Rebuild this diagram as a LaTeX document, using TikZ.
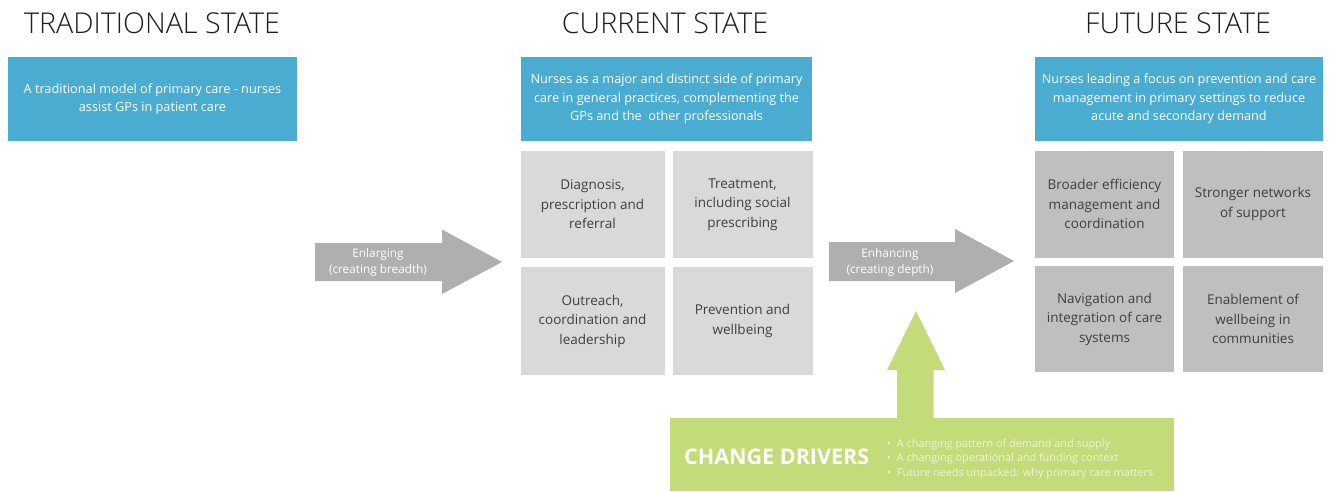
\documentclass[tikz,border=0pt]{standalone}
\usepackage{fontspec}
\setmainfont{Open Sans}
\newfontfamily\headfont{Open Sans Light}
\definecolor{bluebg}{HTML}{4BACD2}
\definecolor{lightbox}{HTML}{D9D9D9}
\definecolor{darkbox}{HTML}{BFBFBF}
\definecolor{arrowgray}{HTML}{AFAFAF}
\definecolor{drivergreen}{HTML}{C3DB78}
\definecolor{boxtext}{HTML}{3F3F3F}
\definecolor{titletext}{HTML}{1E1E1E}
\definecolor{paletext}{HTML}{EEF4D8}
\begin{document}
\begin{tikzpicture}[x=1pt,y=-1pt,
  heading/.style={anchor=base,text=titletext,font=\headfont\fontsize{28.7}{34}\selectfont,inner sep=0pt},
  bluebox/.style={fill=bluebg,text=white,minimum width=289,minimum height=84,inner sep=0pt,align=center,
                  font=\fontsize{12.7}{18.5}\selectfont},
  cell/.style={minimum width=143,minimum height=107,inner sep=0pt,align=center,text=boxtext,
               font=\fontsize{13.5}{19.5}\selectfont},
  nowcell/.style={cell,fill=lightbox},
  nextcell/.style={cell,fill=darkbox},
  arrowlabel/.style={text=white,align=center,inner sep=0pt,font=\fontsize{11.8}{16}\selectfont}]
\useasboundingbox (0,0) rectangle (1330,491);
\fill[white] (0,0) rectangle (1330,491);

% column headings
\node[heading] (hTrad) at (152,33) {TRADITIONAL STATE};
\node[heading] (hCur)  at (665,33) {CURRENT STATE};
\node[heading] (hFut)  at (1178,33) {FUTURE STATE};

% summary boxes
\node[bluebox] (bTrad) at (152.5,99) {A traditional model of primary care - nurses\\assist GPs in patient care};
\node[bluebox,minimum width=291] (bCur) at (666.5,99) {Nurses as a major and distinct side of primary\\care in general practices, complementing the\\GPs and the\ \ other professionals};
\node[bluebox,minimum width=288] (bFut) at (1179,99) {Nurses leading a focus on prevention and care\\management in primary settings to reduce\\acute and secondary demand};

% current state grid
\node[nowcell,minimum width=144] (c11) at (592.5,204.5) {Diagnosis,\\prescription and\\referral};
\node[nowcell,minimum width=140] (c12) at (742.5,204.5) {Treatment,\\including social\\prescribing};
\node[nowcell,minimum width=144,minimum height=108] (c21) at (592.5,321) {Outreach,\\coordination and\\leadership};
\node[nowcell,minimum width=140,minimum height=108] (c22) at (742.5,321) {Prevention and\\wellbeing};

% future state grid
\node[nextcell,minimum width=139] (f11) at (1104.5,204) {Broader efficiency\\management and\\coordination};
\node[nextcell,minimum width=140] (f12) at (1253,204) {Stronger networks\\of support};
\node[nextcell,minimum width=139,minimum height=106] (f21) at (1104.5,319) {Navigation and\\integration of care\\systems};
\node[nextcell,minimum width=140,minimum height=106] (f22) at (1253,319) {Enablement of\\wellbeing in\\communities};

% transition arrows
\fill[arrowgray] (315,243) -- (442,243) -- (442,229.5) -- (502,262) -- (442,294) -- (442,281) -- (315,281) -- cycle;
\node[arrowlabel] (aEnl) at (378,262) {Enlarging\\(creating breadth)};
\fill[arrowgray] (829,242) -- (955,242) -- (955,229) -- (1014,261) -- (955,293) -- (955,281) -- (829,281) -- cycle;
\node[arrowlabel] (aEnh) at (890,262) {Enhancing\\(creating depth)};

% change drivers
\fill[drivergreen] (670,418) rectangle (1174,491);
\fill[drivergreen] (897,419) -- (897,370) -- (887,370) -- (916,311) -- (945,370) -- (933.5,370) -- (933.5,419) -- cycle;
\node[anchor=west,text=white,inner sep=0pt,font=\fontsize{21.5}{26}\bfseries] (drv) at (684,457) {CHANGE DRIVERS};
\node[anchor=west,text=paletext,inner sep=0pt,align=left,font=\fontsize{10.9}{14.5}\selectfont] (drvlist) at (887,459)
  {\textbullet\ \ A changing pattern of demand and supply\\
   \textbullet\ \ A changing operational and funding context\\
   \textbullet\ \ Future needs unpacked: why primary care matters};
\end{tikzpicture}
\end{document}
